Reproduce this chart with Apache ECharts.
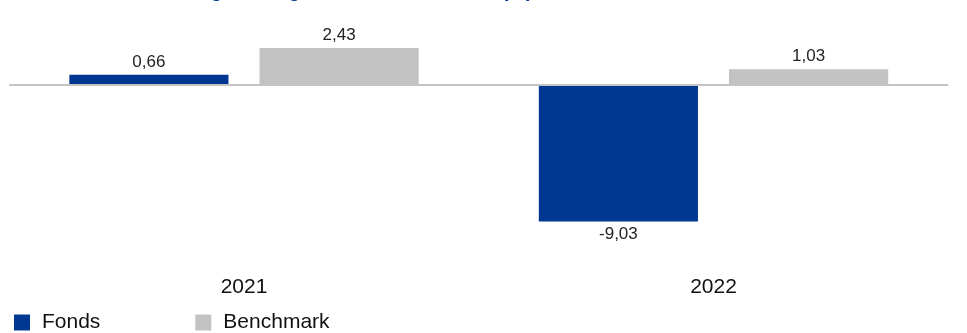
<!DOCTYPE html>
<html>
<head>
<meta charset="utf-8">
<script src="https://cdn.jsdelivr.net/npm/echarts@6/dist/echarts.min.js"></script>
<style>
  html, body { margin: 0; padding: 0; background: #fff; }
  #chart { width: 967px; height: 333px; }
</style>
</head>
<body>
<div id="chart"></div>
<script>
// Daten
var jahre = ['2021', '2022'];
var fonds = [0.66, -9.03];
var benchmark = [2.43, 1.03];
var serienNamen = ['Fonds', 'Benchmark'];
var titelText = 'Wertentwicklung im Vergleich zur Benchmark (%)';

var myChart = echarts.init(document.getElementById('chart'));

// Beschriftung oben bei positiven, unten bei negativen Werten
function mitLabel(werte) {
    return werte.map(function (v) {
        return { value: v, label: { position: v < 0 ? 'bottom' : 'top' } };
    });
}

function komma(p) {
    return p.value.toFixed(2).replace('.', ',');
}

var labelStil = {
    show: true,
    distance: 4,
    fontFamily: 'Liberation Sans',
    fontSize: 17,
    color: '#222',
    formatter: komma
};

var option = {
    animation: false,
    title: {
        text: titelText,
        left: 63,
        top: -19,
        padding: 0,
        textStyle: {
            fontFamily: 'Liberation Sans',
            fontSize: 20,
            fontWeight: 'bold',
            color: '#003891'
        }
    },
    legend: {
        data: serienNamen,
        left: 14,
        top: 312,
        padding: 0,
        itemWidth: 16,
        itemHeight: 16,
        itemGap: 95,
        icon: 'rect',
        textStyle: {
            fontFamily: 'Liberation Sans',
            fontSize: 21,
            color: '#111',
            padding: [0, 0, 0, 7]
        }
    },
    grid: {
        left: 9.25,
        right: 18.75,
        top: 9.1,
        height: 257.4
    },
    xAxis: {
        type: 'category',
        data: jahre,
        position: 'bottom',
        axisLine: { onZero: false, show: false },
        axisTick: { show: false },
        axisLabel: {
            margin: 10,
            fontFamily: 'Liberation Sans',
            fontSize: 21,
            color: '#111'
        }
    },
    yAxis: {
        type: 'value',
        min: -12,
        max: 5,
        show: false,
        splitLine: { show: false }
    },
    series: [
        {
            name: serienNamen[0],
            type: 'bar',
            data: mitLabel(fonds),
            barWidth: '33.9%',
            barGap: '19.5%',
            itemStyle: { color: '#003891' },
            label: labelStil,
            markLine: {
                silent: true,
                symbol: 'none',
                label: { show: false },
                lineStyle: { color: '#c4c4c4', width: 2, type: 'solid' },
                data: [{ yAxis: 0 }]
            }
        },
        {
            name: serienNamen[1],
            type: 'bar',
            data: mitLabel(benchmark),
            barWidth: '33.9%',
            itemStyle: { color: '#c2c2c2' },
            label: labelStil
        }
    ]
};

myChart.setOption(option);
</script>
</body>
</html>
